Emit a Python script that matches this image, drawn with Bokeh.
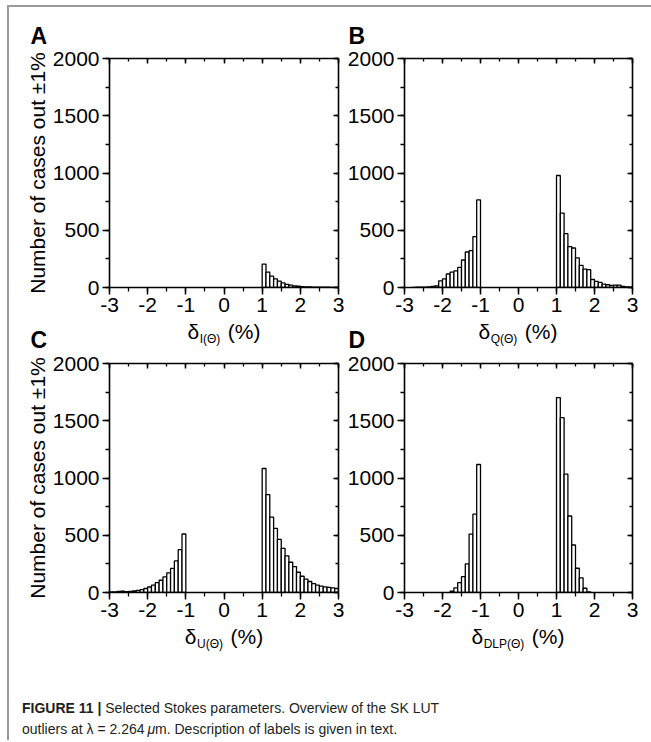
from bokeh.plotting import figure
from bokeh.models import (LinearAxis, SingleIntervalTicker, Range1d,
                          CustomJSTickFormatter, Div, ColumnDataSource, Spacer)
from bokeh.core.properties import value
from bokeh.layouts import column, row
from bokeh.embed import file_html
from bokeh.resources import INLINE

# ---------------- data ----------------
neg_bin_left = [-3.0, -2.9, -2.8, -2.7, -2.6, -2.5, -2.4, -2.3, -2.2, -2.1,
                -2.0, -1.9, -1.8, -1.7, -1.6, -1.5, -1.4, -1.3, -1.2, -1.1]
pos_bin_left = [1.0, 1.1, 1.2, 1.3, 1.4, 1.5, 1.6, 1.7, 1.8, 1.9,
                2.0, 2.1, 2.2, 2.3, 2.4, 2.5, 2.6, 2.7, 2.8, 2.9]
bin_width = 0.1

a_neg = [0, 0, 0, 0, 0, 0, 0, 0, 0, 0, 0, 0, 0, 0, 0, 0, 0, 0, 0, 0]
a_pos = [205, 135, 100, 75, 55, 40, 28, 20, 15, 11, 8, 6, 5, 4, 3, 3, 2, 2, 1, 1]

b_neg = [0, 0, 1, 2, 3, 4, 6, 10, 15, 58, 75, 118, 135, 145, 175, 240, 310, 322, 445, 765]
b_pos = [978, 650, 470, 357, 345, 259, 193, 161, 156, 70, 53, 44, 29, 24, 18, 21, 20, 9, 6, 3]

c_neg = [5, 6, 9, 12, 8, 9, 13, 18, 25, 35, 48, 64, 86, 107, 136, 172, 210, 276, 374, 511]
c_pos = [1083, 855, 659, 560, 464, 386, 319, 264, 226, 177, 142, 116, 96, 78, 64, 55, 49, 44, 40, 35]

d_neg = [0, 0, 0, 0, 0, 0, 0, 0, 0, 0, 0, 0, 12, 40, 86, 138, 250, 510, 684, 1118]
d_pos = [1702, 1527, 1033, 668, 415, 212, 128, 37, 6, 0, 0, 0, 0, 0, 0, 0, 0, 0, 0, 0]

panel_letters = ["A", "B", "C", "D"]
x_label_subs = ["I(\u0398)", "Q(\u0398)", "U(\u0398)", "DLP(\u0398)"]
y_label = "Number of cases out \u00b11%"
x_range_limits = (-3, 3)
y_range_limits = (0, 2000)

caption_bold = "FIGURE 11 |"
caption_line1 = "Selected Stokes parameters. Overview of the SK LUT"
caption_line2 = "outliers at \u03bb = 2.264\u2009<i>\u03bc</i>m. Description of labels is given in text."

# ---------------- geometry / styling ----------------
FONT = "Liberation Sans"
TICK_SIZE = "21px"
CONTENT_W = 642
FRAME = 229
LEFT_W, RIGHT_W = 335, 307
LEFT_MBL, LEFT_MBR = 100, 6
RIGHT_MBL, RIGHT_MBR = 59, 19
ROW_TOP, ROW_BOT = 10, 33
ROW_H = ROW_TOP + FRAME + ROW_BOT
STRIP_TOP_H, STRIP_MID_H, STRIP_BOT_H = 41, 33, 35
CAPTION_H = 80

ARIAL_W = {"I": 0.278, "(": 0.333, ")": 0.333, "\u0398": 0.778, "Q": 0.778,
           "U": 0.722, "D": 0.722, "L": 0.556, "P": 0.667}


def style_axis(ax, inward):
    ax.axis_line_color = "black"
    ax.axis_line_width = 1.6
    ax.major_tick_line_color = "black"
    ax.minor_tick_line_color = "black"
    ax.major_tick_line_width = 1.5
    ax.minor_tick_line_width = 1.3
    if inward:
        ax.major_tick_in, ax.major_tick_out = 5, 0
        ax.minor_tick_in, ax.minor_tick_out = 3, 0
    else:
        ax.major_tick_in, ax.major_tick_out = 0, 7
        ax.minor_tick_in, ax.minor_tick_out = 0, 4
    ax.major_label_text_font = FONT
    ax.major_label_text_font_size = TICK_SIZE
    ax.major_label_text_color = "black"
    ax.major_label_standoff = 3


def make_panel(neg, pos, width, mbl, mbr, ylabel):
    p = figure(width=width, height=ROW_H, output_backend="svg", toolbar_location=None,
               x_range=Range1d(*x_range_limits), y_range=Range1d(*y_range_limits),
               min_border_left=mbl, min_border_right=mbr,
               min_border_top=ROW_TOP, min_border_bottom=ROW_BOT)
    p.outline_line_color = None
    p.grid.visible = False
    p.background_fill_color = "white"
    p.border_fill_color = "white"

    p.xaxis.ticker = SingleIntervalTicker(interval=1, num_minor_ticks=2)
    p.yaxis.ticker = SingleIntervalTicker(interval=500, num_minor_ticks=2)
    p.xaxis.formatter = CustomJSTickFormatter(code="return tick.toFixed(0)")
    for ax in p.xaxis + p.yaxis:
        style_axis(ax, inward=False)
    if ylabel:
        p.yaxis.axis_label = y_label
        p.yaxis.axis_label_text_font = FONT
        p.yaxis.axis_label_text_font_size = "21px"
        p.yaxis.axis_label_text_font_style = "normal"
        p.yaxis.axis_label_text_color = "black"
        p.yaxis.axis_label_standoff = 1

    blank = CustomJSTickFormatter(code="return ''")
    top = LinearAxis(ticker=SingleIntervalTicker(interval=1, num_minor_ticks=2), formatter=blank)
    right = LinearAxis(ticker=SingleIntervalTicker(interval=500, num_minor_ticks=2), formatter=blank)
    for ax in (top, right):
        style_axis(ax, inward=True)
        ax.major_label_text_font_size = "0px"
        ax.major_label_standoff = 0
    p.add_layout(top, "above")
    p.add_layout(right, "right")

    lefts, tops = [], []
    for l, v in zip(neg_bin_left + pos_bin_left, neg + pos):
        if v > 0:
            lefts.append(l)
            tops.append(v)
    src = ColumnDataSource(dict(left=lefts, right=[l + bin_width for l in lefts],
                                top=tops, bottom=[0] * len(tops)))
    p.quad(left="left", right="right", top="top", bottom="bottom", source=src,
           fill_color="white", line_color="black", line_width=1.3)
    return p


def make_strip(h):
    s = figure(width=CONTENT_W, height=h, output_backend="svg", toolbar_location=None,
               x_range=Range1d(0, CONTENT_W), y_range=Range1d(h, 0),
               x_axis_type=None, y_axis_type=None, min_border=0)
    s.outline_line_color = None
    s.grid.visible = False
    s.background_fill_color = "white"
    s.border_fill_color = "white"
    return s


def add_letters(s, letters, baseline):
    xs = [LEFT_MBL - 79, LEFT_W + RIGHT_MBL - 55]
    s.text(x=xs, y=[baseline, baseline], text=letters, text_font=value(FONT),
           text_font_size=value("23px"), text_font_style="bold", text_color="black",
           text_baseline="alphabetic", text_align="left")


def add_xlabels(s, subs, baseline):
    centers = [LEFT_MBL + FRAME / 2, LEFT_W + RIGHT_MBL + FRAME / 2]
    dx, sx, px = [], [], []
    for c, sub in zip(centers, subs):
        w_delta = 0.556 * 21
        w_sub = sum(ARIAL_W.get(ch, 0.6) for ch in sub) * 12
        gap = 8
        w_pct = 1.555 * 21
        x0 = c - (w_delta + w_sub + gap + w_pct) / 2
        dx.append(x0)
        sx.append(x0 + w_delta + 0.5)
        px.append(x0 + w_delta + w_sub + gap)
    common = dict(text_font=value(FONT), text_color="black",
                  text_baseline="alphabetic", text_align="left")
    s.text(x=dx, y=[baseline] * 2, text=["\u03b4"] * 2, text_font_size=value("21px"), **common)
    s.text(x=sx, y=[baseline + 7.5] * 2, text=subs, text_font_size=value("12px"), **common)
    s.text(x=px, y=[baseline] * 2, text=["(%)"] * 2, text_font_size=value("21px"), **common)


pA = make_panel(a_neg, a_pos, LEFT_W, LEFT_MBL, LEFT_MBR, True)
pB = make_panel(b_neg, b_pos, RIGHT_W, RIGHT_MBL, RIGHT_MBR, False)
pC = make_panel(c_neg, c_pos, LEFT_W, LEFT_MBL, LEFT_MBR, True)
pD = make_panel(d_neg, d_pos, RIGHT_W, RIGHT_MBL, RIGHT_MBR, False)

strip_top = make_strip(STRIP_TOP_H)
add_letters(strip_top, panel_letters[0:2], 28)

strip_mid = make_strip(STRIP_MID_H)
add_xlabels(strip_mid, x_label_subs[0:2], 11)
add_letters(strip_mid, panel_letters[2:4], 19)

strip_bot = make_strip(STRIP_BOT_H)
add_xlabels(strip_bot, x_label_subs[2:4], 11)

cap_html = ('<div style="font-family:\'Liberation Sans\'; font-size:14px; line-height:21px; '
            'color:#231f20; padding:38px 0 0 13px; white-space:nowrap;">'
            f'<b>{caption_bold}</b> {caption_line1}<br>{caption_line2}</div>')
cap = Div(text=cap_html, width=CONTENT_W, height=CAPTION_H, margin=0)

top_line = Div(text="", width=CONTENT_W, height=2, margin=0,
               styles={"background-color": "#9a9a9a"})
left_line = Div(text="", width=2, height=735, margin=0,
                styles={"background-color": "#9a9a9a"})

content = column(top_line, strip_top, row(pA, pB), strip_mid, row(pC, pD), strip_bot, cap)
root = column(
    Spacer(width=651, height=5, margin=0),
    row(Spacer(width=7, height=735, margin=0), left_line, content),
)

open("out.html", "w").write(file_html(root, INLINE))
